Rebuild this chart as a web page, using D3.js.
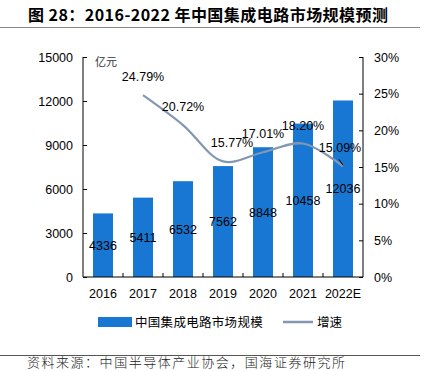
<!DOCTYPE html>
<meta charset="utf-8">
<style>
body { margin: 0; background: #fff; }
svg { display: block; font-family: "Liberation Sans", Arial, sans-serif; }
.cjk { font-family: "Noto Sans CJK SC", sans-serif; }
.axis text { font-size: 12.5px; fill: #000; }
.axis path, .axis line { stroke: #000; stroke-width: 1; }
</style>
<svg width="424" height="371"></svg>
<script src="https://d3js.org/d3.v7.min.js"></script>
<script>

var years = ["2016", "2017", "2018", "2019", "2020", "2021", "2022E"];
var marketSize = [4336, 5411, 6532, 7562, 8848, 10458, 12036];
var growth = [null, 24.79, 20.72, 15.77, 17.01, 18.20, 15.09];
var leftTicks = [0, 3000, 6000, 9000, 12000, 15000];
var rightTicks = [0, 5, 10, 15, 20, 25, 30];

var svg = d3.select("svg"),
    width = +svg.attr("width"),
    height = +svg.attr("height");

var margin = {left: 83, right: 61, top: 57, bottom: 94};
var innerW = width - margin.left - margin.right,
    innerH = height - margin.top - margin.bottom;

// title
svg.append("text")
    .attr("class", "cjk")
    .attr("x", 28)
    .attr("y", 21)
    .attr("font-size", 16)
    .attr("font-weight", "bold")
    .attr("textLength", 360)
    .text("图 28：2016-2022 年中国集成电路市场规模预测");

svg.append("line")
    .attr("x1", 0).attr("x2", 420)
    .attr("y1", 27.5).attr("y2", 27.5)
    .attr("stroke", "#888").attr("stroke-width", 1);

var g = svg.append("g").attr("transform", `translate(${margin.left},${margin.top})`);

var x = d3.scaleBand().domain(years).range([0, innerW]).paddingInner(0.5).paddingOuter(0.25);
var xs = d3.scaleBand().domain(years).range([0, innerW]);
var y = d3.scaleLinear().domain([0, 15000]).range([innerH, 0]);
var y2 = d3.scaleLinear().domain([0, 30]).range([innerH, 0]);

// bars
g.selectAll("rect.bar")
  .data(marketSize)
  .enter().append("rect")
    .attr("class", "bar")
    .attr("x", (d, i) => x(years[i]))
    .attr("width", x.bandwidth())
    .attr("y", d => y(d))
    .attr("height", d => innerH - y(d))
    .attr("fill", "#1877d2");

// axes
var leftAxis = g.append("g").attr("class", "axis")
    .call(d3.axisLeft(y).tickValues(leftTicks).tickSize(-4).tickPadding(10).tickFormat(d3.format("d")));
leftAxis.select(".domain").attr("d", `M0,${innerH}V0`);

var rightAxis = g.append("g").attr("class", "axis")
    .attr("transform", `translate(${innerW},0)`)
    .call(d3.axisRight(y2).tickValues(rightTicks).tickSize(-4).tickPadding(11).tickFormat(d => d + "%"));
rightAxis.select(".domain").attr("d", `M0,${innerH}V0`);

var bottom = g.append("g").attr("class", "axis")
    .attr("transform", `translate(0,${innerH})`);
bottom.append("line").attr("x1", 0).attr("x2", innerW).attr("stroke", "#000");
bottom.selectAll("line.tk")
  .data(years.slice(1))
  .enter().append("line")
    .attr("class", "tk")
    .attr("x1", d => xs(d)).attr("x2", d => xs(d))
    .attr("y1", 0).attr("y2", -4)
    .attr("stroke", "#000");
bottom.selectAll("text")
  .data(years)
  .enter().append("text")
    .attr("x", d => xs(d) + xs.bandwidth() / 2)
    .attr("y", 21)
    .attr("text-anchor", "middle")
    .text(d => d);

// unit
g.append("text")
    .attr("class", "cjk")
    .attr("x", 12).attr("y", 9)
    .attr("font-size", 11)
    .attr("fill", "#333")
    .text("亿元");

// bar labels
g.selectAll("text.blab")
  .data(marketSize)
  .enter().append("text")
    .attr("class", "blab")
    .attr("x", (d, i) => xs(years[i]) + xs.bandwidth() / 2)
    .attr("y", d => (y(d) + innerH) / 2 + 4.5)
    .attr("text-anchor", "middle")
    .attr("font-size", 12.5)
    .text(d => d);

// growth line
var pts = growth.map((v, i) => ({v: v, year: years[i]})).filter(d => d.v != null);
var line = d3.line()
    .x(d => xs(d.year) + xs.bandwidth() / 2)
    .y(d => y2(d.v))
    .curve(d3.curveCatmullRom.alpha(0.5));

g.append("path")
    .datum(pts)
    .attr("d", line)
    .attr("fill", "none")
    .attr("stroke", "#8397b3")
    .attr("stroke-width", 2.2);

var labelDx = {"2019": 9, "2022E": -3};
g.selectAll("text.glab")
  .data(pts)
  .enter().append("text")
    .attr("class", "glab")
    .attr("x", d => xs(d.year) + xs.bandwidth() / 2 + (labelDx[d.year] || 0))
    .attr("y", d => y2(d.v) - 14)
    .attr("text-anchor", "middle")
    .attr("font-size", 12.5)
    .text(d => d.v.toFixed(2) + "%");

// leader for last label
var last = pts[pts.length - 1];
var lx = xs(last.year) + xs.bandwidth() / 2;
g.append("line")
    .attr("x1", lx - 4).attr("y1", y2(last.v) - 7)
    .attr("x2", lx).attr("y2", y2(last.v) - 1)
    .attr("stroke", "#000").attr("stroke-width", 1);

// legend
var lg = svg.append("g").attr("transform", "translate(0,322)");
lg.append("rect").attr("x", 98).attr("y", -5).attr("width", 34).attr("height", 10).attr("fill", "#1877d2");
lg.append("text").attr("class", "cjk").attr("x", 135).attr("y", 4.5).attr("font-size", 12.5)
    .attr("letter-spacing", 0.3).text("中国集成电路市场规模");
lg.append("line").attr("x1", 283).attr("x2", 313).attr("stroke", "#8397b3").attr("stroke-width", 2.5);
lg.append("text").attr("class", "cjk").attr("x", 317).attr("y", 4.5).attr("font-size", 12.5)
    .text("增速");

// source
svg.append("line")
    .attr("x1", 0).attr("x2", 420)
    .attr("y1", 355.5).attr("y2", 355.5)
    .attr("stroke", "#555").attr("stroke-width", 1);
svg.append("text")
    .attr("class", "cjk")
    .attr("x", 27).attr("y", 367)
    .attr("font-size", 13)
    .attr("font-weight", 300)
    .attr("fill", "#222")
    .attr("textLength", 318)
    .text("资料来源：中国半导体产业协会，国海证券研究所");

</script>
